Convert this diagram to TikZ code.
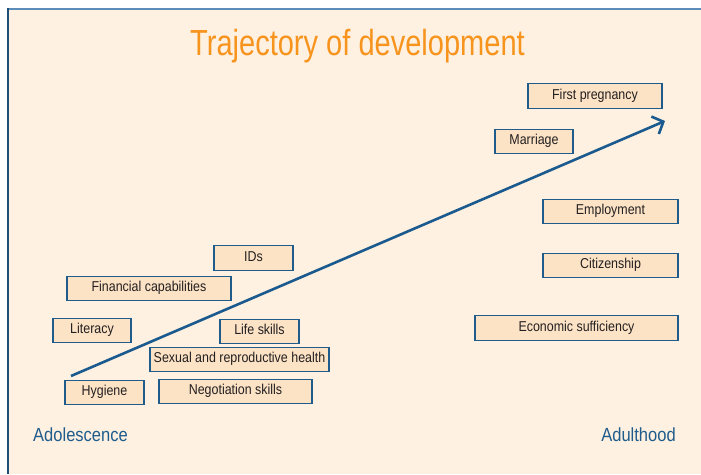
\documentclass[tikz,border=0pt]{standalone}
\usepackage{fontspec}
\usetikzlibrary{arrows.meta}
\newfontfamily\boxfont[FakeStretch=0.87]{Liberation Sans}
\newfontfamily\titlefont[FakeStretch=0.8]{Liberation Sans}
\definecolor{bgcream}{HTML}{FEF1E1}
\definecolor{boxfill}{HTML}{FCE3C6}
\definecolor{boxline}{HTML}{1F5C8C}
\definecolor{arrowblue}{HTML}{1A5A8E}
\definecolor{titleorange}{HTML}{F7941E}
\definecolor{textdark}{HTML}{231F20}
\definecolor{frameleft}{HTML}{1F4E79}
\definecolor{frametop}{HTML}{5B8DB8}
\tikzset{
  itembox/.style={draw=boxline, line width=1.2pt, fill=boxfill, inner sep=0pt,
    minimum height=24.5pt, text height=10pt, text depth=4pt,
    font=\boxfont\fontsize{14.3}{16}\selectfont, text=textdark},
  stagelabel/.style={font=\boxfont\fontsize{19}{21}\selectfont, text=boxline, anchor=base, inner sep=0pt},
  trajectory/.style={draw=arrowblue, line width=2.6pt, -{Straight Barb[length=9pt,width=19pt,line width=2.6pt]}}
}
\begin{document}
\begin{tikzpicture}[x=1pt,y=-1pt]
\useasboundingbox (0,0) rectangle (701,474);
\fill[white] (0,0) rectangle (701,474);
\fill[bgcream] (7,8) rectangle (701,474);
\draw[frametop, line width=2pt] (7,8.5) -- (701,8.5);
\draw[frameleft, line width=2pt] (7.5,8) -- (7.5,474);

\node[font=\titlefont\fontsize{36.3}{40}\selectfont, text=titleorange, anchor=base, inner sep=0pt] (title) at (357.5,55) {Trajectory of development};

\node[itembox, minimum width=134pt] (preg) at (595,96) {First pregnancy};
\node[itembox, minimum width=78pt] (marr) at (534,141.5) {Marriage};
\node[itembox, minimum width=135pt] (empl) at (610.5,211.5) {Employment};
\node[itembox, minimum width=135pt] (citi) at (610.5,265.5) {Citizenship};
\node[itembox, minimum width=203pt] (econ) at (576.5,328) {Economic sufficiency};
\node[itembox, minimum width=79pt] (ids) at (253.5,258) {IDs};
\node[itembox, minimum width=164pt] (fin) at (149,288.5) {Financial capabilities};
\node[itembox, minimum width=78pt] (lit) at (92,330.5) {Literacy};
\node[itembox, minimum width=79pt] (life) at (259.5,331.5) {Life skills};
\node[itembox, minimum width=179pt] (sex) at (239.5,359.5) {Sexual and reproductive health};
\node[itembox, minimum width=79pt] (hyg) at (104.5,392.5) {Hygiene};
\node[itembox, minimum width=153pt] (neg) at (235.5,391.5) {Negotiation skills};

\coordinate (start) at (71,376);
\coordinate (finish) at (665,121);
\draw[trajectory] (start) -- (finish);

\node[stagelabel] (adol) at (80.5,441) {Adolescence};
\node[stagelabel] (adult) at (638.5,441) {Adulthood};
\end{tikzpicture}
\end{document}
